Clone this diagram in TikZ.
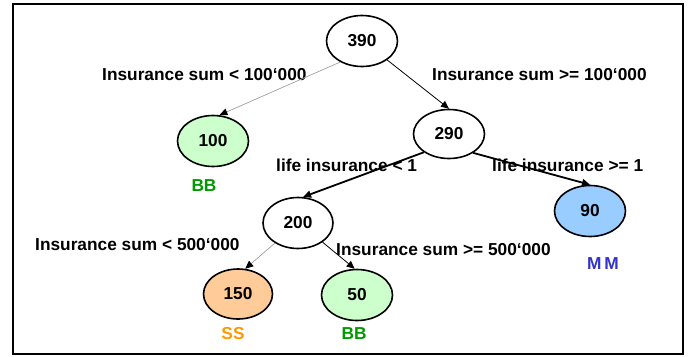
\documentclass[tikz,border=0pt]{standalone}
\usepackage{fontspec}
\setmainfont{Liberation Sans}
\usetikzlibrary{shapes.geometric,arrows.meta}
\definecolor{lgreen}{HTML}{CCFFCC}
\definecolor{lblue}{HTML}{99CCFF}
\definecolor{lpeach}{HTML}{FFCC99}
\definecolor{ggreen}{HTML}{009900}
\definecolor{mblue}{HTML}{3333CC}
\definecolor{sorange}{HTML}{FF9900}
\begin{document}
\begin{tikzpicture}[x=1pt,y=1pt,
  font=\fontsize{17.3}{20}\selectfont\bfseries,
  nd/.style={ellipse,draw,line width=1.6pt,minimum width=71pt,minimum height=51pt,inner sep=0pt},
  lbl/.style={anchor=base west,inner sep=0pt},
  cls/.style={inner sep=0pt},
  edgegray/.style={draw=gray!75,line width=0.7pt,-{Triangle[black,length=8pt,width=7pt]}},
  edgeblack/.style={draw=black,line width=0.8pt,-{Triangle[black,length=8pt,width=7pt]}},
  edgethick/.style={draw=black,line width=1.8pt,-{Triangle[black,length=8pt,width=7pt]}}]
\useasboundingbox (0,0) rectangle (690,-356);
\draw[line width=1.3pt] (13,-4) rectangle (683,-354);

% nodes
\node[nd] (n390) at (362,-41) {390};
\node[nd,fill=lgreen] (n100) at (213,-141) {100};
\node[nd,minimum height=49pt] (n290) at (449,-134) {290};
\node[nd,minimum width=70pt] (n200) at (298,-223) {200};
\node[nd,fill=lblue] (n90) at (590,-211) {90};
\node[nd,minimum width=69pt,minimum height=50pt,fill=lpeach] (n150) at (238,-294) {\raisebox{-7pt}{150}};
\node[nd,fill=lgreen] (n50) at (357,-295) {50};

% class labels
\node[cls,text=ggreen] (c100) at (204,-186) {BB};
\node[cls,text=mblue] (c90) at (603,-264) {M\,M};
\node[cls,text=sorange] (c150) at (233,-334) {SS};
\node[cls,text=ggreen] (c50) at (354,-334) {BB};

% edge labels
\node[lbl] (l1) at (102,-80) {Insurance sum < 100‘000};
\node[lbl] (l2) at (432,-80) {Insurance sum >= 100‘000};
\node[lbl] (l3) at (276,-171) {life insurance < 1};
\node[lbl] (l4) at (492,-171) {life insurance >= 1};
\node[lbl] (l5) at (35,-250) {Insurance sum < 500‘000};
\node[lbl] (l6) at (336,-255) {Insurance sum >= 500‘000};

% edges
\draw[edgegray] (n390.224) -- (n100.76);
\draw[edgeblack] (n390.323) -- (n290.north);
\draw[edgethick] (n290.216) -- (n200.79);
\draw[edgethick] (n290.322) -- (n90.north);
\draw[edgegray] (n200.221) -- (n150.74);
\draw[edgeblack] (n200.322) -- (n50.95);
\end{tikzpicture}
\end{document}
